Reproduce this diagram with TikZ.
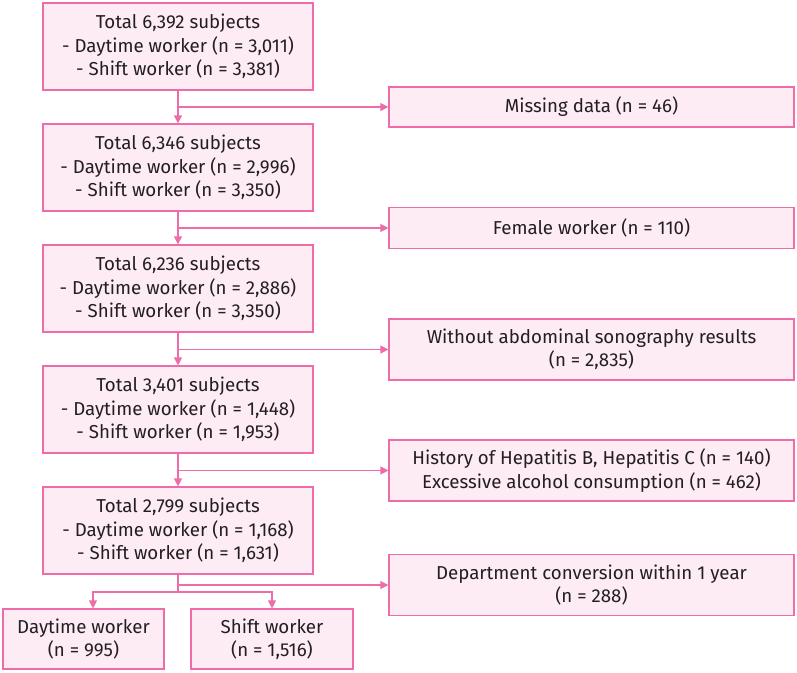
\documentclass[tikz,border=0pt]{standalone}
\usepackage{fontspec}
\setmainfont{Fira Sans}
\usetikzlibrary{arrows.meta}
\definecolor{pinkline}{RGB}{238,108,168}
\definecolor{pinkfill}{RGB}{253,236,244}
\definecolor{txt}{RGB}{35,31,32}
\tikzset{
  box/.style={draw=pinkline, fill=pinkfill, line width=1.2pt, align=center, inner sep=0pt, text=txt,
    font=\fontsize{18.7}{23.5}\selectfont},
  conn/.style={draw=pinkline, line width=1.2pt},
  arr/.style={conn, -{Triangle[length=8pt,width=8pt]}}
}
\begin{document}
\begin{tikzpicture}[x=1pt,y=-1pt]
\useasboundingbox (0,0) rectangle (797,672);
% left column
\node[box, minimum width=270pt, minimum height=87pt] (b1) at (178,46.5) {Total 6,392 subjects\\- Daytime worker (n = 3,011)\\- Shift worker (n = 3,381)};
\node[box, minimum width=270pt, minimum height=87pt] (b2) at (178,167.5) {Total 6,346 subjects\\- Daytime worker (n = 2,996)\\- Shift worker (n = 3,350)};
\node[box, minimum width=270pt, minimum height=87pt] (b3) at (178,288.5) {Total 6,236 subjects\\- Daytime worker (n = 2,886)\\- Shift worker (n = 3,350)};
\node[box, minimum width=270pt, minimum height=87pt] (b4) at (178,409.5) {Total 3,401 subjects\\- Daytime worker (n = 1,448)\\- Shift worker (n = 1,953)};
\node[box, minimum width=270pt, minimum height=87pt] (b5) at (178,530.5) {Total 2,799 subjects\\- Daytime worker (n = 1,168)\\- Shift worker (n = 1,631)};
% right column
\node[box, minimum width=405pt, minimum height=40pt] (r1) at (591.5,107) {Missing data (n = 46)};
\node[box, minimum width=405pt, minimum height=41pt] (r2) at (591.5,228) {Female worker (n = 110)};
\node[box, minimum width=405pt, minimum height=61pt] (r3) at (591.5,349.5) {Without abdominal sonography results\\(n = 2,835)};
\node[box, minimum width=405pt, minimum height=61pt] (r4) at (591.5,470.5) {History of Hepatitis B, Hepatitis C (n = 140)\\Excessive alcohol consumption (n = 462)};
\node[box, minimum width=405pt, minimum height=61pt] (r5) at (591.5,585) {Department conversion within 1 year\\(n = 288)};
% bottom
\node[box, minimum width=161pt, minimum height=60pt] (d) at (83.5,639) {Daytime worker\\(n = 995)};
\node[box, minimum width=162pt, minimum height=60pt] (s) at (272,639) {Shift worker\\(n = 1,516)};
% connectors
\draw[arr] (b1) -- (b2);
\draw[arr] (b2) -- (b3);
\draw[arr] (b3) -- (b4);
\draw[arr] (b4) -- (b5);
\draw[arr] (b1.south |- r1.west) -- (r1.west);
\draw[arr] (b2.south |- r2.west) -- (r2.west);
\draw[arr] (b3.south |- r3.west) -- (r3.west);
\draw[arr] (b4.south |- r4.west) -- (r4.west);
\coordinate (split) at (178,592);
\coordinate (dtop) at (93,592);
\draw[conn] (b5.south) -- (split);
\draw[arr] (b5.south |- r5.west) -- (r5.west);
\draw[arr] (split) -- (dtop) -- (dtop |- d.north);
\draw[arr] (split) -- (s.north |- split) -- (s.north);
\end{tikzpicture}
\end{document}
